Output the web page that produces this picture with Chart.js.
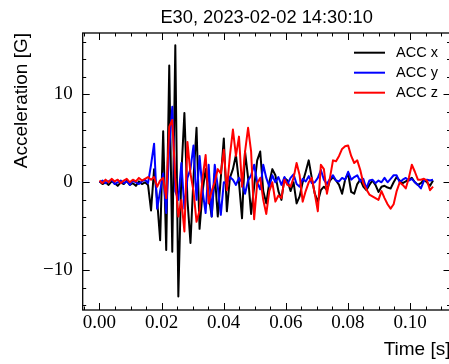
<!DOCTYPE html>
<html>
<head>
<meta charset="utf-8">
<title>E30 acceleration</title>
<script src="https://cdn.jsdelivr.net/npm/chart.js@4/dist/chart.umd.min.js"></script>
<style>
  html, body { margin: 0; padding: 0; background: #ffffff; overflow: hidden; }
  #wrap { width: 452px; height: 364px; }
</style>
</head>
<body>
<div id="wrap"><canvas id="chart" width="452" height="364"></canvas></div>
<script>
// Event E30, 2023-02-02 14:30:10 — three-axis accelerometer record
const titleText = 'E30, 2023-02-02 14:30:10';
const seriesNames = ['ACC x', 'ACC y', 'ACC z'];
const sampleRate = 1024; // samples per second

const accX = [
  0.1, -0.2, 0.0, -0.3, 0.1, -0.1, -0.4, 0.0, -0.2, 0.2, -0.3, -0.1, -0.4, 0.1, -0.2, 0.0, -0.3,
  -3.2, 1.5, -2.0, -6.6, 5.8, -7.7, 13.3, -7.9, 15.6, -13.0,
  1.0, 7.9, -2.0, -6.9, 0.5, 6.2, -5.3, -1.0, 1.5, -1.5, -3.9, 1.0, -3.9, 0.5,
  5.0, -3.3, 0.5, 1.5, 3.1, 0.0, -4.1, 3.5, 0.5, -3.6, -0.5, 2.5, 3.5, -1.0, -2.4, 0.0, 1.5, 0.8, -1.0, -2.0,
  0.5, 0.2, -1.0, 0.0, -2.4, -1.6, 0.0, 1.2, 2.5, 0.5, -1.3, -2.2, -0.9, -0.5, -0.9, 0.2, 0.6, 0.2, -0.3, -1.3,
  0.3, 1.0, -1.1, -1.3, -0.2, 0.3, -0.5, -0.9, -0.3, 0.2, -0.3, -1.1, -0.5, -0.4, -0.6, -0.7, 0.0, 0.6, 0.2, -0.1,
  0.1, 0.3, 0.5, 0.0, -0.3, -0.1, 0.3, 0.0, -0.4, 0.2
];

const accY = [
  0.0, 0.2, -0.1, 0.1, 0.3, -0.2, 0.0, 0.2, -0.1, 0.1, -0.3, 0.2, 0.0, -0.2, 0.1, 0.3,
  -0.1, 2.0, 4.4, -3.0, -1.0, 1.0, -3.5, 4.0, 8.6, -1.0, -2.0, 2.2, -3.0, 0.5, 1.5,
  4.2, -2.0, 3.0, -1.0, -3.5, 2.0, -3.9, 2.0, -0.5, -3.7, 0.0, -0.1, 0.6, 0.3, -0.3, 0.5, 0.0, -1.3, 0.2, 0.8,
  2.0, 0.0, -0.8, 2.0, 0.5, -0.5, 0.8, 0.0, 0.6, -0.3, 0.6, -0.2, 0.5, 0.9, -0.2, -0.5, 0.4, 0.1, 0.7, -0.1,
  0.0, 0.5, 1.4, 0.3, -0.2, 0.4, 0.8, 0.2, 0.1, 0.5, 0.3, 1.2, 0.3, 0.6, 0.8, 0.1, 0.4, -0.7, 0.2, 0.3,
  -0.1, 0.2, 0.0, 0.5, 0.0, 0.4, 0.8, 0.8, 0.0, 0.3, 0.5, 0.2, 0.4, 0.0, -0.3, -0.7, 0.2, 0.3, 0.2, 0.3
];

const accZ = [
  0.2, -0.1, 0.3, 0.0, 0.4, 0.1, 0.3, -0.1, 0.2, 0.4, 0.0, 0.3, 0.1, 0.5, 0.2, 0.4, 0.6,
  0.3, 0.6, -0.5, 0.2, 0.5, -1.8, 6.3, 7.1, 0.5, -3.9, -2.0, -5.6, 4.6, 1.0,
  -1.0, -4.5, -3.2, 0.5, 3.1, -2.4, -1.0, 0.0, 1.5, 1.0, 3.7, -0.9, 3.0, 6.0, 3.0, 5.2, -0.5, 3.5, 6.2, 3.5,
  -4.2, -0.1, 0.5, -2.0, -3.6, -1.0, 0.0, -2.2, -1.5, -1.8, 0.3, -0.3, -0.5, 0.5, 2.2, 0.8, -2.2, -1.0, 0.0, 0.5,
  -1.3, -3.3, 2.0, 1.5, -1.3, 0.5, 2.5, 2.4, 3.0, 3.8, 4.1, 4.2, 3.0, 2.2, 2.5, 1.4, -0.1, -0.8, -1.4, -1.6,
  -1.8, -2.0, -1.0, -1.8, -2.5, -3.0, -2.5, -1.0, 0.0, -0.3, -0.7, 0.5, 2.0, 1.2, 0.3, 0.3, 0.4, 0.2, -0.9, -0.5
];

// sample times in seconds
const time = accX.map((_, i) => i / sampleRate);

const xTickValues = [0, 0.02, 0.04, 0.06, 0.08, 0.10];
const xTickLabels = ['0.00', '0.02', '0.04', '0.06', '0.08', '0.10'];
const yTickValues = [-10, 0, 10];
const yTickLabels = ['\u221210', '0', '10'];

const toPoints = (vals) => vals.map((v, i) => ({ x: time[i], y: v }));

// Frame with inward major/minor ticks on all four sides
const frameTicks = {
  id: 'frameTicks',
  afterDatasetsDraw(chart) {
    const { ctx, chartArea: a, scales: { x, y } } = chart;
    const majorLen = 7, minorLen = 3.5;
    ctx.save();
    ctx.strokeStyle = '#000';
    ctx.lineWidth = 1;
    const seg = (x1, y1, x2, y2) => { ctx.beginPath(); ctx.moveTo(x1, y1); ctx.lineTo(x2, y2); ctx.stroke(); };
    const xStep = 0.005;
    for (let k = Math.ceil(x.min / xStep - 1e-9); k * xStep <= x.max + 1e-9; k++) {
      const px = Math.round(x.getPixelForValue(k * xStep)) + 0.5;
      const len = (k % 4 === 0) ? majorLen : minorLen;
      seg(px, a.bottom, px, a.bottom - len);
      seg(px, a.top, px, a.top + len);
    }
    const yStep = 2;
    for (let k = Math.ceil(y.min / yStep - 1e-9); k * yStep <= y.max + 1e-9; k++) {
      const py = Math.round(y.getPixelForValue(k * yStep)) + 0.5;
      const len = (k % 5 === 0) ? majorLen : minorLen;
      seg(a.left, py, a.left + len, py);
      seg(a.right, py, a.right - len, py);
    }
    ctx.lineWidth = 1.3;
    ctx.strokeRect(a.left, a.top, a.right - a.left, a.bottom - a.top);
    ctx.restore();
  }
};

// Legend drawn inside the plot, upper right
const innerLegend = {
  id: 'innerLegend',
  afterDraw(chart) {
    const { ctx } = chart;
    const lineX0 = 354, lineX1 = 385, textX = 396, y0 = 52.7, rowGap = 20;
    ctx.save();
    ctx.font = '14.5px "Liberation Sans"';
    ctx.textBaseline = 'middle';
    ctx.textAlign = 'left';
    chart.data.datasets.forEach((ds, i) => {
      const yy = y0 + i * rowGap;
      ctx.strokeStyle = ds.borderColor;
      ctx.lineWidth = 2;
      ctx.beginPath();
      ctx.moveTo(lineX0, yy);
      ctx.lineTo(lineX1, yy);
      ctx.stroke();
      ctx.fillStyle = '#000';
      ctx.fillText(ds.label, textX, yy);
    });
    ctx.restore();
  }
};

const lineStyle = { borderWidth: 2, pointRadius: 0, tension: 0, borderJoinStyle: 'round', fill: false };

new Chart(document.getElementById('chart'), {
  type: 'line',
  data: {
    datasets: [
      { label: seriesNames[0], data: toPoints(accX), borderColor: '#000000', order: 3, ...lineStyle },
      { label: seriesNames[1], data: toPoints(accY), borderColor: '#0000ff', order: 2, ...lineStyle },
      { label: seriesNames[2], data: toPoints(accZ), borderColor: '#ff0000', order: 1, ...lineStyle }
    ]
  },
  options: {
    responsive: false,
    animation: false,
    devicePixelRatio: 1,
    events: [],
    layout: { padding: { left: 0, top: 0, right: 1.5, bottom: 0 } },
    scales: {
      x: {
        type: 'linear',
        min: -0.00541,
        max: 0.11304,
        afterBuildTicks: (s) => { s.ticks = xTickValues.map(v => ({ value: v })); },
        afterFit: (s) => { s.height = 54; },
        grid: { display: false, drawTicks: false },
        border: { display: false },
        ticks: {
          autoSkip: false,
          maxRotation: 0,
          padding: 1.6,
          color: '#000',
          font: { family: 'Liberation Serif', size: 19 },
          callback: (v) => xTickLabels[xTickValues.indexOf(v)]
        },
        title: {
          display: true, text: 'Time [s]', align: 'end', color: '#000',
          font: { family: 'Liberation Sans', size: 19 },
          padding: { top: 0, bottom: 2.9 }
        }
      },
      y: {
        type: 'linear',
        min: -14.54,
        max: 17.0,
        afterBuildTicks: (s) => { s.ticks = yTickValues.map(v => ({ value: v })); },
        afterFit: (s) => { s.width = 82.7; },
        grid: { display: false, drawTicks: false },
        border: { display: false },
        ticks: {
          autoSkip: false,
          padding: 10,
          color: '#000',
          font: { family: 'Liberation Serif', size: 19 },
          callback: (v) => yTickLabels[yTickValues.indexOf(v)]
        },
        title: {
          display: true, text: 'Acceleration [G]', align: 'end', color: '#000',
          font: { family: 'Liberation Sans', size: 19 },
          padding: { top: 10.3, bottom: 0 }
        }
      }
    },
    plugins: {
      legend: { display: false },
      tooltip: { enabled: false },
      title: {
        display: true,
        text: titleText,
        fullSize: false,
        color: '#000',
        font: { family: 'Liberation Sans', size: 18.3, weight: 'normal' },
        padding: { top: 7.3, bottom: 3.74 }
      }
    }
  },
  plugins: [frameTicks, innerLegend]
});
</script>
</body>
</html>
